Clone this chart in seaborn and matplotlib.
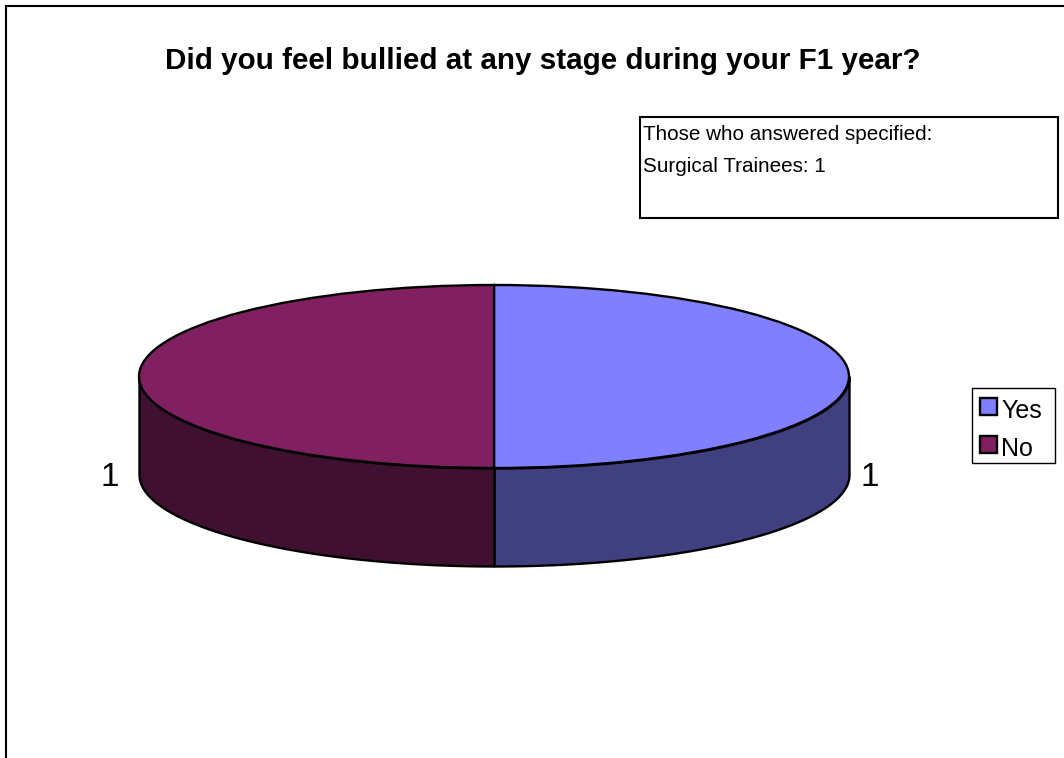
import numpy as np
import matplotlib
matplotlib.use("Agg")
import matplotlib.pyplot as plt
from matplotlib.patches import Rectangle
from matplotlib.transforms import Affine2D
import seaborn as sns

# Data
title = "Did you feel bullied at any stage during your F1 year?"
answers = ["Yes", "No"]
counts = [1, 1]
note_lines = ["Those who answered specified:", "Surgical Trainees: 1"]
top_colors = ["#8080FF", "#802060"]
side_colors = ["#404080", "#401030"]

sns.set_theme(style="white")
plt.rcParams["font.family"] = ["Liberation Sans", "DejaVu Sans"]
plt.rcParams["text.color"] = "black"

W, H = 1064, 758
fig = plt.figure(figsize=(W / 100, H / 100), dpi=100, facecolor="white")
px = Affine2D().scale(1, -1).translate(0, H)  # top-down pixel coordinates

# axes frame: only top and left edges are visible in the reference
L, T = 6, 6
ax = fig.add_axes([L / W, 0, (W - L) / W, (H - T) / H])

CX, CY, RX, RY, DEPTH = 494, 376.5, 355, 91.5, 98
LW = 1.7

wedges, _ = ax.pie(counts, colors=top_colors, startangle=90, counterclock=False,
                   wedgeprops=dict(edgecolor="black", linewidth=LW), radius=1)
for w in wedges:
    w.set_zorder(3)

# Side wall, following each slice's angular range on the front half
depth_u = DEPTH / RY
for w, c in zip(wedges, side_colors):
    a = max(w.theta1, -180)
    b = min(w.theta2, 0)
    if b <= a:
        continue
    t = np.radians(np.linspace(a, b, 200))
    x, y = np.cos(t), np.sin(t)
    ax.fill_between(x, y - depth_u, y, facecolor=c, edgecolor="black",
                    linewidth=LW, zorder=2)

ax.set_aspect("auto")
ax.set_xlim((L - CX) / RX, (W - CX) / RX)
ax.set_ylim((CY - H) / RY, (CY - T) / RY)
ax.set_frame_on(True)
for side, sp in ax.spines.items():
    sp.set_visible(side in ("top", "left"))
    sp.set_color("black")
    sp.set_linewidth(1.5)
ax.set_xticks([])
ax.set_yticks([])

# Value labels
label_pos = [(870, 477), (110, 477)]
for v, (lx, ly) in zip(counts, label_pos):
    ax.text(lx, ly, str(v), transform=px, ha="center", va="center",
            fontsize=24, color="black")

# Title
fig.text(543, 61, title, transform=px, ha="center", va="center",
         fontsize=21.3, fontweight="bold", color="black")

# Note box
fig.add_artist(Rectangle((639.5, 117), 418.5, 101, transform=px, facecolor="white",
                         edgecolor="black", linewidth=1.5))
for line, ny in zip(note_lines, [134, 166]):
    fig.text(643, ny, line, transform=px, ha="left", va="center",
             fontsize=14.9, color="black")

# Legend frame and entries
fig.add_artist(Rectangle((972, 388), 83, 75, transform=px, facecolor="white",
                         edgecolor="black", linewidth=1.0, zorder=4))
leg = ax.legend(wedges, answers, loc="upper left", bbox_to_anchor=(980, 396),
                bbox_transform=px, fontsize=18, frameon=False,
                borderpad=0, labelspacing=0.56, handlelength=0.68,
                handleheight=0.68, handletextpad=0.16, borderaxespad=0,
                labelcolor="black")
for txt in leg.get_texts():
    txt.set_position((0, -3))
leg.set_zorder(5)
ax.set_zorder(6)
ax.patch.set_alpha(0)

fig.savefig("out.png", dpi=100, facecolor="white")
